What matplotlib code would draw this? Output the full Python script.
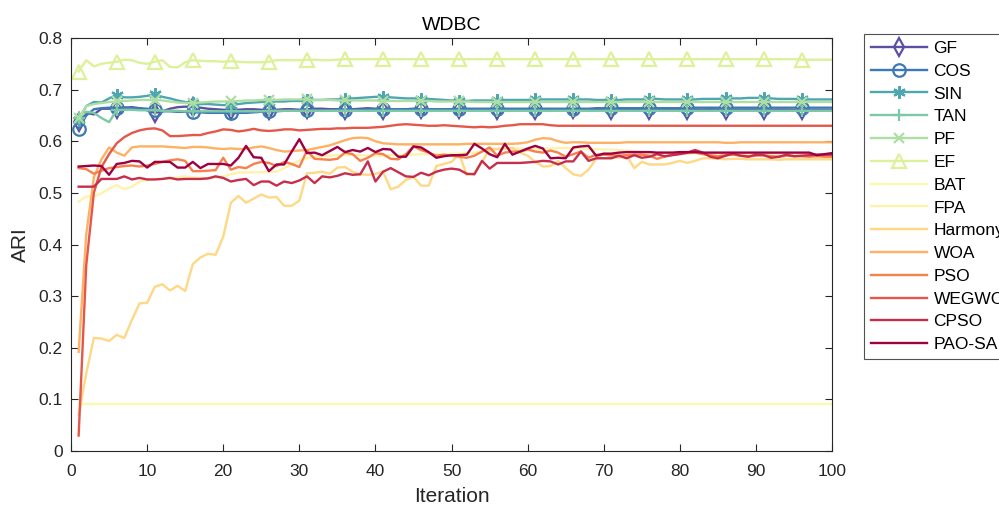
import numpy as np
import matplotlib.pyplot as plt
from matplotlib import cm

plt.rcParams['font.family'] = ['Liberation Sans', 'DejaVu Sans']

iterations = np.arange(1, 101)

labels = ['GF', 'COS', 'SIN', 'TAN', 'PF', 'EF', 'BAT', 'FPA', 'Harmony',
          'WOA', 'PSO', 'WEGWO', 'CPSO', 'PAO-SA']

gf = [0.637, 0.655, 0.652, 0.663, 0.663, 0.663, 0.665, 0.666, 0.664, 0.660,
      0.655, 0.658, 0.663, 0.666, 0.667, 0.666, 0.665, 0.663, 0.662, 0.661,
      0.660, 0.661, 0.662, 0.662, 0.661, 0.661, 0.661, 0.662, 0.662, 0.661,
      0.662, 0.663, 0.663, 0.662, 0.662, 0.661, 0.662, 0.663, 0.664, 0.663,
      0.661, 0.660, 0.661, 0.662, 0.663, 0.662, 0.661, 0.660, 0.661, 0.662,
      0.662, 0.661, 0.661, 0.662, 0.661, 0.660, 0.661, 0.662, 0.662, 0.661,
      0.661, 0.660, 0.661, 0.661, 0.662, 0.662, 0.661, 0.660, 0.661, 0.661,
      0.661, 0.662, 0.662, 0.661, 0.660, 0.660, 0.661, 0.661, 0.662, 0.661,
      0.660, 0.661, 0.661, 0.662, 0.661, 0.661, 0.660, 0.661, 0.661, 0.661,
      0.660, 0.660, 0.661, 0.661, 0.660, 0.660, 0.660, 0.660, 0.660, 0.660]

cos = [0.624, 0.650, 0.662, 0.664, 0.665, 0.665, 0.665, 0.664, 0.664, 0.663,
       0.660, 0.658, 0.658, 0.657, 0.657, 0.656, 0.656, 0.655, 0.655, 0.655,
       0.654, 0.655, 0.655, 0.656, 0.657, 0.658, 0.658, 0.659, 0.659, 0.659,
       0.660, 0.660, 0.660, 0.660, 0.661, 0.661, 0.661, 0.661, 0.662, 0.662,
       0.662, 0.662, 0.662, 0.662, 0.662, 0.662, 0.662, 0.662, 0.662, 0.662,
       0.663, 0.663, 0.663, 0.663, 0.663, 0.663, 0.663, 0.663, 0.663, 0.663,
       0.663, 0.663, 0.663, 0.663, 0.663, 0.663, 0.663, 0.663, 0.664, 0.664,
       0.664, 0.664, 0.664, 0.664, 0.664, 0.664, 0.664, 0.664, 0.664, 0.664,
       0.664, 0.665, 0.665, 0.665, 0.665, 0.665, 0.665, 0.665, 0.665, 0.665,
       0.665, 0.665, 0.665, 0.665, 0.665, 0.665, 0.665, 0.665, 0.665, 0.665]

sin = [0.641, 0.668, 0.676, 0.675, 0.683, 0.690, 0.685, 0.685, 0.686, 0.688,
       0.691, 0.686, 0.683, 0.679, 0.676, 0.674, 0.672, 0.672, 0.671, 0.670,
       0.670, 0.672, 0.674, 0.675, 0.676, 0.676, 0.677, 0.677, 0.678, 0.678,
       0.679, 0.680, 0.680, 0.681, 0.681, 0.682, 0.683, 0.684, 0.685, 0.686,
       0.686, 0.685, 0.684, 0.683, 0.683, 0.682, 0.682, 0.681, 0.680, 0.679,
       0.678, 0.678, 0.679, 0.679, 0.679, 0.679, 0.680, 0.680, 0.680, 0.680,
       0.681, 0.681, 0.681, 0.681, 0.681, 0.681, 0.681, 0.681, 0.680, 0.680,
       0.680, 0.680, 0.681, 0.681, 0.681, 0.682, 0.682, 0.681, 0.681, 0.681,
       0.681, 0.681, 0.682, 0.682, 0.682, 0.683, 0.683, 0.683, 0.684, 0.684,
       0.684, 0.683, 0.682, 0.682, 0.682, 0.681, 0.681, 0.681, 0.681, 0.681]

tan = [0.645, 0.657, 0.655, 0.645, 0.637, 0.660, 0.661, 0.661, 0.660, 0.660,
       0.660, 0.659, 0.659, 0.659, 0.658, 0.658, 0.658, 0.658, 0.658, 0.658,
       0.658, 0.658, 0.658, 0.658, 0.658, 0.659, 0.659, 0.659, 0.659, 0.659,
       0.659, 0.659, 0.659, 0.659, 0.659, 0.659, 0.659, 0.659, 0.659, 0.659,
       0.659, 0.659, 0.659, 0.659, 0.659, 0.659, 0.659, 0.659, 0.659, 0.659,
       0.659, 0.659, 0.659, 0.659, 0.659, 0.659, 0.659, 0.659, 0.659, 0.659,
       0.659, 0.659, 0.659, 0.659, 0.659, 0.659, 0.659, 0.659, 0.659, 0.659,
       0.659, 0.659, 0.659, 0.659, 0.659, 0.659, 0.659, 0.659, 0.659, 0.659,
       0.659, 0.659, 0.659, 0.659, 0.659, 0.659, 0.659, 0.659, 0.659, 0.659,
       0.659, 0.659, 0.659, 0.659, 0.659, 0.659, 0.659, 0.659, 0.659, 0.659]

pf = [0.645, 0.668, 0.672, 0.674, 0.676, 0.677, 0.678, 0.679, 0.680, 0.680,
      0.680, 0.679, 0.677, 0.675, 0.674, 0.674, 0.675, 0.676, 0.677, 0.677,
      0.677, 0.678, 0.679, 0.679, 0.680, 0.680, 0.680, 0.681, 0.681, 0.681,
      0.681, 0.680, 0.680, 0.680, 0.679, 0.679, 0.679, 0.679, 0.679, 0.679,
      0.678, 0.678, 0.678, 0.678, 0.678, 0.678, 0.678, 0.677, 0.677, 0.677,
      0.677, 0.677, 0.676, 0.676, 0.676, 0.676, 0.676, 0.676, 0.676, 0.676,
      0.676, 0.676, 0.676, 0.676, 0.676, 0.676, 0.676, 0.676, 0.676, 0.676,
      0.676, 0.676, 0.676, 0.676, 0.676, 0.676, 0.676, 0.676, 0.676, 0.676,
      0.676, 0.676, 0.676, 0.676, 0.676, 0.676, 0.676, 0.676, 0.676, 0.676,
      0.676, 0.676, 0.676, 0.676, 0.676, 0.676, 0.676, 0.676, 0.676, 0.676]

ef = [0.735, 0.757, 0.745, 0.750, 0.752, 0.754, 0.758, 0.757, 0.752, 0.750,
      0.754, 0.757, 0.744, 0.743, 0.753, 0.757, 0.756, 0.755, 0.755, 0.754,
      0.755, 0.754, 0.753, 0.753, 0.753, 0.754, 0.757, 0.757, 0.757, 0.757,
      0.758, 0.758, 0.757, 0.757, 0.758, 0.759, 0.759, 0.759, 0.759, 0.759,
      0.759, 0.759, 0.759, 0.759, 0.759, 0.759, 0.759, 0.759, 0.759, 0.759,
      0.759, 0.759, 0.759, 0.759, 0.759, 0.759, 0.759, 0.759, 0.759, 0.759,
      0.759, 0.759, 0.759, 0.759, 0.759, 0.759, 0.759, 0.759, 0.759, 0.759,
      0.759, 0.759, 0.759, 0.759, 0.759, 0.759, 0.759, 0.759, 0.759, 0.759,
      0.759, 0.759, 0.759, 0.759, 0.759, 0.759, 0.759, 0.759, 0.759, 0.759,
      0.759, 0.759, 0.759, 0.759, 0.759, 0.758, 0.758, 0.758, 0.758, 0.758]

bat = [0.092] * 100

fpa = [0.483, 0.493, 0.493, 0.499, 0.508, 0.515, 0.507, 0.512, 0.522, 0.525,
       0.527, 0.527, 0.528, 0.530, 0.532, 0.530, 0.529, 0.529, 0.529, 0.532,
       0.536, 0.539, 0.540, 0.540, 0.540, 0.541, 0.541, 0.548, 0.555, 0.563,
       0.567, 0.570, 0.571, 0.572, 0.573, 0.573, 0.573, 0.573, 0.572, 0.572,
       0.572, 0.573, 0.573, 0.574, 0.574, 0.575, 0.575, 0.575, 0.575, 0.576,
       0.576, 0.577, 0.578, 0.580, 0.582, 0.585, 0.586, 0.586, 0.586, 0.585,
       0.585, 0.586, 0.586, 0.587, 0.587, 0.586, 0.586, 0.585, 0.585, 0.584,
       0.584, 0.583, 0.582, 0.580, 0.579, 0.578, 0.578, 0.578, 0.577, 0.577,
       0.577, 0.577, 0.577, 0.577, 0.577, 0.576, 0.576, 0.576, 0.576, 0.576,
       0.576, 0.576, 0.576, 0.576, 0.576, 0.576, 0.575, 0.575, 0.575, 0.575]

harmony = [0.070, 0.150, 0.219, 0.218, 0.213, 0.225, 0.219, 0.254, 0.286, 0.287,
           0.318, 0.323, 0.311, 0.320, 0.310, 0.362, 0.375, 0.382, 0.380, 0.415,
           0.481, 0.494, 0.481, 0.489, 0.497, 0.491, 0.492, 0.475, 0.475, 0.485,
           0.538, 0.539, 0.541, 0.537, 0.549, 0.550, 0.541, 0.536, 0.535, 0.537,
           0.541, 0.507, 0.512, 0.525, 0.531, 0.514, 0.514, 0.552, 0.556, 0.560,
           0.575, 0.535, 0.538, 0.560, 0.585, 0.585, 0.586, 0.587, 0.578, 0.572,
           0.560, 0.551, 0.552, 0.562, 0.548, 0.536, 0.533, 0.545, 0.566, 0.576,
           0.570, 0.568, 0.573, 0.548, 0.560, 0.555, 0.555, 0.555, 0.558, 0.562,
           0.558, 0.562, 0.567, 0.567, 0.566, 0.565, 0.566, 0.566, 0.565, 0.565,
           0.565, 0.565, 0.564, 0.565, 0.565, 0.565, 0.565, 0.565, 0.565, 0.565]

woa = [0.192, 0.420, 0.530, 0.565, 0.588, 0.578, 0.572, 0.588, 0.590, 0.590,
       0.590, 0.590, 0.589, 0.588, 0.587, 0.589, 0.589, 0.588, 0.586, 0.585,
       0.586, 0.585, 0.585, 0.588, 0.590, 0.587, 0.583, 0.580, 0.581, 0.582,
       0.583, 0.586, 0.589, 0.592, 0.597, 0.602, 0.606, 0.607, 0.606, 0.600,
       0.596, 0.595, 0.594, 0.594, 0.594, 0.594, 0.594, 0.594, 0.594, 0.594,
       0.594, 0.595, 0.595, 0.595, 0.595, 0.595, 0.595, 0.595, 0.596, 0.598,
       0.603, 0.606, 0.605, 0.600, 0.597, 0.598, 0.598, 0.597, 0.597, 0.597,
       0.597, 0.597, 0.598, 0.598, 0.598, 0.598, 0.598, 0.598, 0.598, 0.598,
       0.598, 0.598, 0.598, 0.598, 0.598, 0.597, 0.597, 0.598, 0.598, 0.598,
       0.598, 0.598, 0.598, 0.598, 0.598, 0.598, 0.598, 0.598, 0.598, 0.598]

pso = [0.548, 0.546, 0.537, 0.543, 0.548, 0.550, 0.552, 0.553, 0.551, 0.553,
       0.556, 0.560, 0.563, 0.565, 0.562, 0.542, 0.542, 0.543, 0.544, 0.568,
       0.545, 0.550, 0.548, 0.556, 0.560, 0.558, 0.552, 0.560, 0.556, 0.550,
       0.582, 0.566, 0.565, 0.564, 0.566, 0.578, 0.575, 0.562, 0.568, 0.577,
       0.575, 0.566, 0.565, 0.575, 0.590, 0.583, 0.578, 0.572, 0.574, 0.572,
       0.570, 0.568, 0.572, 0.580, 0.588, 0.572, 0.578, 0.580, 0.580, 0.584,
       0.580, 0.578, 0.582, 0.578, 0.570, 0.575, 0.580, 0.568, 0.574, 0.574,
       0.573, 0.572, 0.573, 0.574, 0.574, 0.572, 0.566, 0.570, 0.574, 0.576,
       0.577, 0.578, 0.575, 0.573, 0.571, 0.573, 0.574, 0.572, 0.571, 0.572,
       0.573, 0.571, 0.570, 0.572, 0.571, 0.571, 0.570, 0.571, 0.570, 0.570]

wegwo = [0.030, 0.360, 0.500, 0.550, 0.575, 0.596, 0.608, 0.616, 0.621, 0.624,
         0.625, 0.621, 0.610, 0.610, 0.611, 0.612, 0.612, 0.616, 0.619, 0.623,
         0.622, 0.619, 0.621, 0.624, 0.621, 0.620, 0.621, 0.623, 0.623, 0.621,
         0.622, 0.623, 0.624, 0.624, 0.625, 0.625, 0.626, 0.626, 0.626, 0.627,
         0.628, 0.630, 0.632, 0.633, 0.632, 0.631, 0.630, 0.630, 0.631, 0.630,
         0.629, 0.628, 0.627, 0.628, 0.627, 0.628, 0.630, 0.631, 0.633, 0.633,
         0.633, 0.633, 0.631, 0.630, 0.630, 0.630, 0.630, 0.630, 0.630, 0.630,
         0.630, 0.630, 0.630, 0.630, 0.630, 0.630, 0.630, 0.630, 0.630, 0.630,
         0.630, 0.630, 0.630, 0.630, 0.630, 0.630, 0.630, 0.630, 0.630, 0.630,
         0.630, 0.630, 0.630, 0.630, 0.630, 0.630, 0.630, 0.630, 0.630, 0.630]

cpso = [0.512, 0.512, 0.512, 0.527, 0.527, 0.527, 0.532, 0.526, 0.529, 0.526,
        0.526, 0.527, 0.529, 0.526, 0.527, 0.527, 0.527, 0.528, 0.532, 0.529,
        0.522, 0.525, 0.527, 0.515, 0.522, 0.522, 0.514, 0.522, 0.519, 0.524,
        0.532, 0.519, 0.532, 0.530, 0.533, 0.538, 0.535, 0.536, 0.561, 0.522,
        0.541, 0.548, 0.540, 0.532, 0.531, 0.539, 0.534, 0.541, 0.545, 0.547,
        0.545, 0.537, 0.536, 0.562, 0.547, 0.558, 0.558, 0.558, 0.558, 0.559,
        0.560, 0.562, 0.561, 0.555, 0.561, 0.561, 0.580, 0.562, 0.567, 0.567,
        0.567, 0.572, 0.567, 0.573, 0.568, 0.570, 0.575, 0.571, 0.573, 0.575,
        0.578, 0.583, 0.578, 0.570, 0.567, 0.572, 0.576, 0.572, 0.570, 0.574,
        0.573, 0.568, 0.570, 0.574, 0.571, 0.572, 0.573, 0.574, 0.574, 0.574]

pao_sa = [0.551, 0.552, 0.553, 0.552, 0.535, 0.556, 0.558, 0.562, 0.561, 0.549,
          0.560, 0.560, 0.560, 0.549, 0.549, 0.560, 0.548, 0.556, 0.556, 0.556,
          0.553, 0.568, 0.591, 0.569, 0.568, 0.542, 0.555, 0.555, 0.580, 0.604,
          0.577, 0.578, 0.573, 0.581, 0.589, 0.579, 0.583, 0.580, 0.587, 0.579,
          0.585, 0.584, 0.570, 0.570, 0.590, 0.588, 0.579, 0.568, 0.571, 0.573,
          0.573, 0.574, 0.595, 0.586, 0.575, 0.569, 0.595, 0.574, 0.580, 0.586,
          0.591, 0.586, 0.567, 0.568, 0.567, 0.588, 0.590, 0.591, 0.572, 0.576,
          0.576, 0.578, 0.579, 0.579, 0.579, 0.579, 0.578, 0.578, 0.578, 0.579,
          0.579, 0.579, 0.578, 0.578, 0.578, 0.578, 0.578, 0.578, 0.578, 0.578,
          0.578, 0.578, 0.578, 0.578, 0.578, 0.578, 0.578, 0.573, 0.575, 0.577]

series = [gf, cos, sin, tan, pf, ef, bat, fpa, harmony, woa, pso, wegwo, cpso, pao_sa]
# marker, size for the six function-based variants
markers = [('d', 9), ('o', 9), ((6, 2, 0), 9), ('+', 9), ('x', 7), ('^', 10)] + [(None, 0)] * 8

colors = cm.Spectral_r(np.linspace(0, 1, len(series)))

fig = plt.figure(figsize=(9.99, 5.08), dpi=100)
ax = fig.add_axes([0.0711, 0.1122, 0.7618, 0.8130])

for vals, lab, (mk, ms), c in zip(series, labels, markers, colors):
    if mk is None:
        ax.plot(iterations, vals, color=c, lw=1.7, label=lab)
    else:
        ax.plot(iterations, vals, color=c, lw=1.7, label=lab, marker=mk,
                markevery=5, markersize=ms, markerfacecolor='none',
                markeredgewidth=1.6)

ax.set_xlim(0, 100)
ax.set_ylim(0, 0.8)
ax.set_xticks(np.arange(0, 101, 10))
ax.set_yticks(np.arange(0, 0.81, 0.1))
ax.set_yticklabels(['0', '0.1', '0.2', '0.3', '0.4', '0.5', '0.6', '0.7', '0.8'])
ax.tick_params(direction='in', top=True, right=True, length=5, width=0.8,
               labelsize=12.5, colors='#262626')
ax.tick_params(axis='x', pad=9)
ax.tick_params(axis='y', pad=6)
for s in ax.spines.values():
    s.set_color('#262626')
    s.set_linewidth(0.8)

ax.set_title('WDBC', fontsize=14, color='#000000', pad=6)
ax.set_xlabel('Iteration', fontsize=15, color='#262626', labelpad=6)
ax.set_ylabel('ARI', fontsize=15, color='#262626', labelpad=6)

leg = ax.legend(loc='upper left', bbox_to_anchor=(1.042, 1.01), fontsize=12.5,
                frameon=True, fancybox=False, edgecolor='#262626',
                handlelength=3.2, handletextpad=0.4, borderaxespad=0,
                labelspacing=0.44)
leg.get_frame().set_linewidth(0.8)

fig.savefig('out.png', dpi=100)
